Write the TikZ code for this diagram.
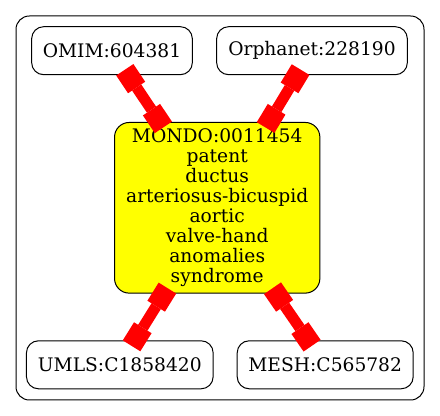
\documentclass[tikz,border=0pt]{standalone}
\usepackage{fontspec}
\setmainfont{DejaVu Serif}
\usetikzlibrary{arrows.meta}
\definecolor{teered}{HTML}{FF0000}
\definecolor{hilite}{HTML}{FFFF00}

\begin{document}
\begin{tikzpicture}[
  x=0.75pt, y=-0.75pt,
  idbox/.style={rectangle, rounded corners=9pt, draw=black, line width=0.75pt, fill=white,
                minimum height=36pt, inner sep=2pt, font=\fontsize{14}{15}\selectfont},
  hub/.style={idbox, rounded corners=11pt, fill=hilite,
              minimum width=154pt, minimum height=128pt, align=center},
  tee/.tip={Rectangle[length=16pt, width=15.5pt, line width=0pt]},
  link/.style={tee-tee, line width=8.25pt, color=teered,
               shorten <=-4.9pt, shorten >=-4.9pt},
]
  \useasboundingbox (0,0) rectangle (440,416);
  % cluster frame
  \draw[rounded corners=10pt, line width=0.75pt] (16,16) rectangle (424,400);
  \node[hub](m) at (217.2,207.8){MONDO:0011454\\patent\\ductus\\arteriosus-bicuspid\\aortic\\valve-hand\\anomalies\\syndrome};
  \node[idbox, minimum width=120.5pt](o) at (112,50.7){OMIM:604381};
  \node[idbox, minimum width=143pt](p) at (312,50.7){Orphanet:228190};
  \node[idbox, minimum width=140pt](u) at (119.8,364.8){UMLS:C1858420};
  \node[idbox, minimum width=132pt](h) at (325.2,364.8){MESH:C565782};
  \draw[link](o)--(m); \draw[link](p)--(m);
  \draw[link](m)--(u); \draw[link](m)--(h);
\end{tikzpicture}
\end{document}
